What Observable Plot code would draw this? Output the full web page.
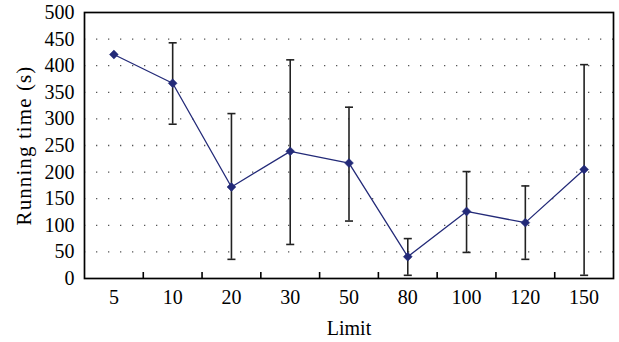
<!DOCTYPE html>
<html><head><meta charset="utf-8">
<script src="https://cdn.jsdelivr.net/npm/d3@7"></script>
<script src="https://cdn.jsdelivr.net/npm/@observablehq/plot@0.6"></script>
<style>
body{margin:0;background:#fff}
#chart svg, #chart svg text {font-family: "Liberation Serif", "Times New Roman", "DejaVu Serif", serif !important;}
</style>
</head><body><div id="chart"></div>
<script>
const limits = [5, 10, 20, 30, 50, 80, 100, 120, 150];
const runningTime = [421, 367, 172, 239, 217, 41, 126, 105, 205];
const errLow = [421, 290, 36, 64, 108, 6, 49, 36, 6];
const errHigh = [421, 443, 310, 411, 322, 75, 201, 174, 402];
const yTicks = [0, 50, 100, 150, 200, 250, 300, 350, 400, 450, 500];
const gridLevels = [50, 100, 150, 200, 250, 300, 350, 400, 450];
const yLabel = "Running time (s)";
const xLabel = "Limit";

const navy = "#232a78";
const data = limits.map((l, i) => ({i, limit: l, y: runningTime[i], lo: errLow[i], hi: errHigh[i]}));
const withErr = data.filter(d => d.hi > d.lo);
const caps = withErr.flatMap(d => [{i: d.i, v: d.lo}, {i: d.i, v: d.hi}]);
const boundaries = limits.slice(1).map((_, i) => i + 0.5);
const capSymbol = {draw(ctx, size) { const w = Math.sqrt(size / Math.PI) * 1.75; ctx.moveTo(-w, 0); ctx.lineTo(w, 0); }};

const chart = Plot.plot({
  width: 619, height: 342,
  marginLeft: 84, marginRight: 6, marginTop: 12, marginBottom: 64,
  style: {fontFamily: "Liberation Serif, serif", fontSize: "20px", color: "#000", background: "#fff"},
  x: {type: "linear", domain: [-0.5, limits.length - 0.5]},
  y: {domain: [0, 500]},
  marks: [
    Plot.ruleY(gridLevels, {stroke: "#555", strokeWidth: 1.3, strokeDasharray: "1.3,10.7"}),
    Plot.frame({stroke: "#000", strokeWidth: 1.7}),
    Plot.axisY({ticks: yTicks, tickSize: 0, tickPadding: 10, label: null, fontSize: 20}),
    Plot.axisX({ticks: limits.map((_, i) => i), tickFormat: i => limits[i], tickSize: 0, tickPadding: 11, label: null, fontSize: 20}),
    Plot.axisX({ticks: boundaries, tickFormat: () => "", tickSize: -6, strokeWidth: 1.6, label: null}),
    Plot.ruleX(withErr, {x: "i", y1: "lo", y2: "hi", stroke: "#222", strokeWidth: 1.6}),
    Plot.dot(caps, {x: "i", y: "v", symbol: capSymbol, r: 2.3, stroke: "#222", strokeWidth: 1.6}),
    Plot.line(data, {x: "i", y: "y", stroke: navy, strokeWidth: 1.3}),
    Plot.dot(data, {x: "i", y: "y", symbol: "diamond2", r: 4, fill: navy, stroke: navy, strokeWidth: 0.5}),
    Plot.text([yLabel], {frameAnchor: "left", textAnchor: "middle", lineAnchor: "middle", rotate: -90, dx: -60, fontSize: 21}),
    Plot.text([xLabel], {frameAnchor: "bottom", textAnchor: "middle", lineAnchor: "middle", dy: 50, fontSize: 20})
  ]
});
d3.select(chart).selectAll("text").filter(function() { return this.textContent === yLabel; }).style("letter-spacing", "1.1px");
document.getElementById("chart").appendChild(chart);
</script>
</body></html>
